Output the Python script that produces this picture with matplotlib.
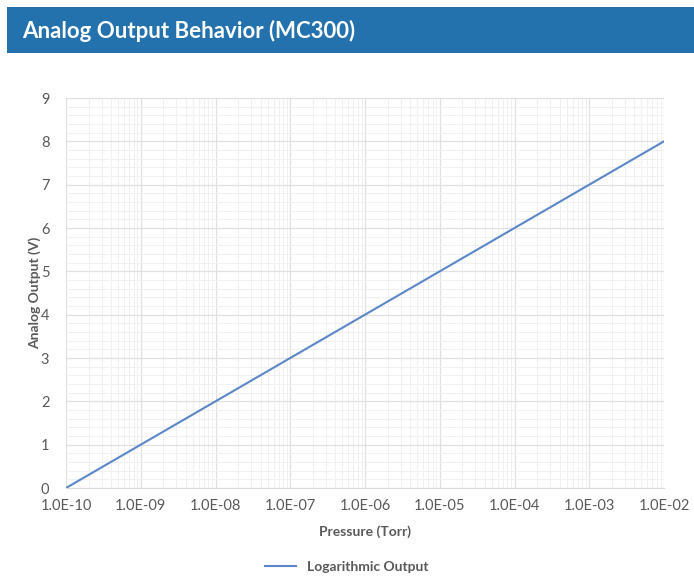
import numpy as np
import matplotlib.pyplot as plt
from matplotlib.ticker import FixedLocator, MultipleLocator
from matplotlib.patches import Rectangle

plt.rcParams['font.family'] = ['Lato', 'DejaVu Sans']

# 데이터
pressure = [1e-10, 1e-9, 1e-8, 1e-7, 1e-6, 1e-5, 1e-4, 1e-3, 1e-2]
output_v = [0, 1, 2, 3, 4, 5, 6, 7, 8]
x_ticks = [1e-10, 1e-9, 1e-8, 1e-7, 1e-6, 1e-5, 1e-4, 1e-3, 1e-2]
x_labels = ['1.0E-10', '1.0E-09', '1.0E-08', '1.0E-07', '1.0E-06',
            '1.0E-05', '1.0E-04', '1.0E-03', '1.0E-02']

fig = plt.figure(figsize=(6.94, 5.76), dpi=100)

# 상단 제목 배너
fig.patches.append(Rectangle((7 / 694, 1 - 53 / 576), 1 - 7 / 694, 46 / 576,
                             transform=fig.transFigure, facecolor='#2372AE',
                             edgecolor='none', zorder=0))
fig.text(22 / 694, 1 - 31 / 576, 'Analog Output Behavior (MC300)', color='white',
         fontsize=16, fontweight='bold', va='center', ha='left')

ax = fig.add_axes([66 / 694, 1 - 488 / 576, 598 / 694, 390 / 576])
ax.plot(pressure, output_v, color='#5B87C8', linewidth=1.5, label='Logarithmic Output')

ax.set_xscale('log')
ax.set_xlim(1e-10, 1e-2)
ax.set_ylim(0, 9)

ax.set_xticks(x_ticks)
ax.set_xticklabels(x_labels)
ax.yaxis.set_major_locator(MultipleLocator(1))
ax.yaxis.set_minor_locator(MultipleLocator(0.2))

ax.grid(which='major', color='#E0E0E0', linewidth=0.9)
ax.grid(which='minor', color='#F0F0F0', linewidth=0.7)
ax.set_axisbelow(True)

for s in ['top', 'right', 'left']:
    ax.spines[s].set_visible(False)
ax.spines['bottom'].set_color('#D9D9D9')
ax.tick_params(which='both', length=0, colors='#595959', labelsize=10.5, pad=8)
ax.tick_params(axis='y', pad=12)

ax.set_xlabel('Pressure (Torr)', fontsize=10, fontweight='bold', color='#595959', labelpad=9)
ax.set_ylabel('Analog Output (V)', fontsize=10, fontweight='bold', color='#595959', labelpad=0)

fig.legend(loc='center', bbox_to_anchor=(0.5, 1 - 567 / 576), frameon=False,
           prop={'weight': 'bold', 'size': 10}, handlelength=2.2, labelcolor='#595959')

fig.savefig('out.png', dpi=100)
